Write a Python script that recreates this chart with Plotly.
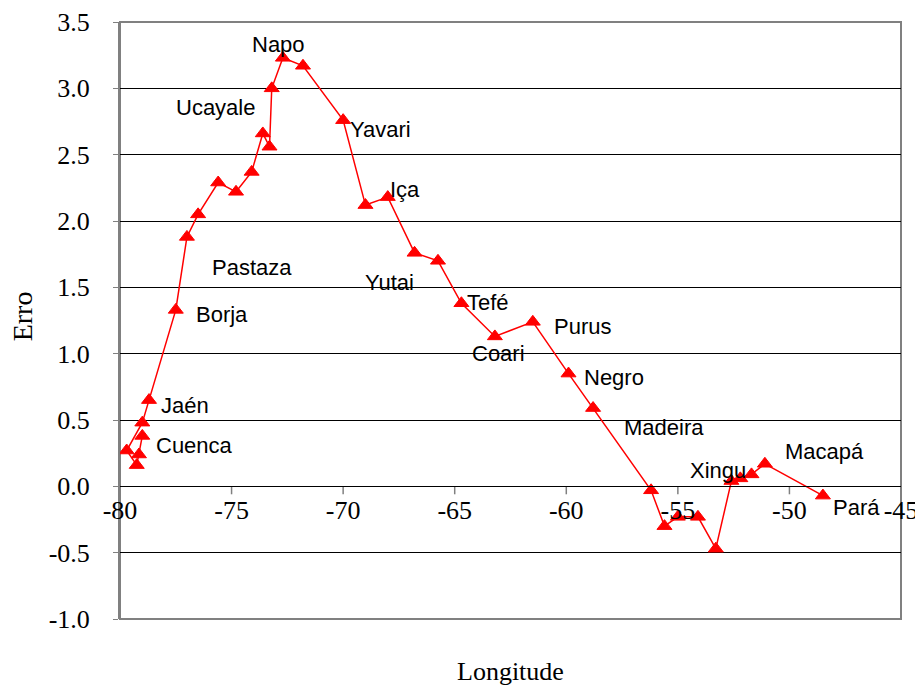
import plotly.graph_objects as go

# Data (longitude vs. error)
longitude = [-79.0, -79.15, -79.25, -79.7, -79.0, -78.7, -77.5, -77.0, -76.5, -75.6,
             -74.8, -74.1, -73.6, -73.3, -73.2, -72.7, -71.8, -70.0, -69.0, -68.0,
             -66.8, -65.75, -64.7, -63.2, -61.5, -59.9, -58.8, -56.2, -55.6, -55.0,
             -54.1, -53.3, -52.6, -52.2, -51.7, -51.1, -48.5]
erro = [0.38, 0.24, 0.16, 0.27, 0.48, 0.65, 1.33, 1.88, 2.05, 2.29,
        2.22, 2.37, 2.66, 2.56, 3.00, 3.23, 3.17, 2.76, 2.12, 2.18,
        1.76, 1.70, 1.38, 1.13, 1.24, 0.85, 0.59, -0.03, -0.30, -0.23,
        -0.23, -0.47, 0.04, 0.06, 0.09, 0.17, -0.07]

# Place-name labels (text, longitude, error)
label_names = ["Napo", "Ucayale", "Yavari", "Iça", "Pastaza", "Yutai", "Borja", "Tefé",
               "Purus", "Coari", "Negro", "Jaén", "Madeira", "Cuenca", "Xingu", "Macapá", "Pará"]
label_x = [-72.88, -75.70, -68.32, -67.24, -74.09, -67.91, -75.43, -63.53,
           -59.28, -63.04, -57.84, -77.09, -55.61, -76.64, -53.19, -48.44, -47.01]
label_y = [3.334, 2.852, 2.693, 2.241, 1.653, 1.54, 1.299, 1.382,
           1.208, 1.005, 0.824, 0.613, 0.447, 0.311, 0.123, 0.259, -0.163]

x_ticks = [-80, -75, -70, -65, -60, -55, -50, -45]
y_ticks = [-1.0, -0.5, 0.0, 0.5, 1.0, 1.5, 2.0, 2.5, 3.0, 3.5]
x_range = [-80, -45]
y_range = [-1.0, 3.5]

serif = "Times New Roman, Liberation Serif, serif"
sans = "Arial, Liberation Sans, sans-serif"

fig = go.Figure()

# Tick marks hanging below the y = 0 axis line (drawn as one-sided error bars)
tick_depth = 0.06
fig.add_trace(go.Scatter(
    x=x_ticks, y=[0] * len(x_ticks), mode="markers",
    marker=dict(size=1, opacity=0),
    error_y=dict(type="data", symmetric=False, array=[0] * len(x_ticks),
                 arrayminus=[tick_depth] * len(x_ticks), width=0,
                 color="#808080", thickness=1.5),
    hoverinfo="skip", showlegend=False, cliponaxis=False,
))

fig.add_trace(go.Scatter(
    x=longitude, y=erro, mode="lines+markers",
    line=dict(color="#ff0000", width=1.5),
    marker=dict(symbol="triangle-up", size=13, color="#ff0000",
                line=dict(color="#ff0000", width=1)),
    showlegend=False, cliponaxis=False,
))

for name, lx, ly in zip(label_names, label_x, label_y):
    fig.add_annotation(x=lx, y=ly, xref="x", yref="y", text=name, showarrow=False,
                       font=dict(family=sans, size=22, color="black"),
                       xanchor="center", yanchor="middle")

zero_pos = (0 - y_range[0]) / (y_range[1] - y_range[0])

# The page body has an 8px margin, so the margins are shifted to compensate.
fig.update_layout(
    width=923, height=686,
    margin=dict(l=112, r=30, t=14, b=75),
    plot_bgcolor="white", paper_bgcolor="white",
    xaxis=dict(
        range=x_range, tickvals=x_ticks, ticktext=[str(v) for v in x_ticks],
        anchor="free", position=zero_pos, automargin=False,
        showgrid=False, zeroline=False,
        showline=True, linecolor="black", linewidth=1,
        ticks="",
        tickfont=dict(family=serif, size=26, color="black"),
    ),
    yaxis=dict(
        range=y_range, tickvals=y_ticks, ticktext=[f"{v:.1f}" for v in y_ticks],
        automargin=False,
        showgrid=True, gridcolor="black", gridwidth=1,
        zeroline=True, zerolinecolor="black", zerolinewidth=1,
        showline=True, linecolor="#808080", linewidth=2,
        ticks="outside", ticklen=5, tickcolor="#808080",
        ticklabelstandoff=18,
        tickfont=dict(family=serif, size=26, color="black"),
    ),
    shapes=[dict(type="rect", xref="paper", yref="paper", x0=0, y0=0, x1=1, y1=1,
                 line=dict(color="#808080", width=2), layer="between")],
)

fig.add_annotation(x=0.5, y=-0.088, xref="paper", yref="paper", text="Longitude",
                   showarrow=False, font=dict(family=serif, size=26, color="black"),
                   xanchor="center", yanchor="middle")
fig.add_annotation(x=-0.1255, y=0.507, xref="paper", yref="paper", text="Erro",
                   showarrow=False, textangle=-90,
                   font=dict(family=serif, size=28, color="black"),
                   xanchor="center", yanchor="middle")

fig.write_html("out.html")
